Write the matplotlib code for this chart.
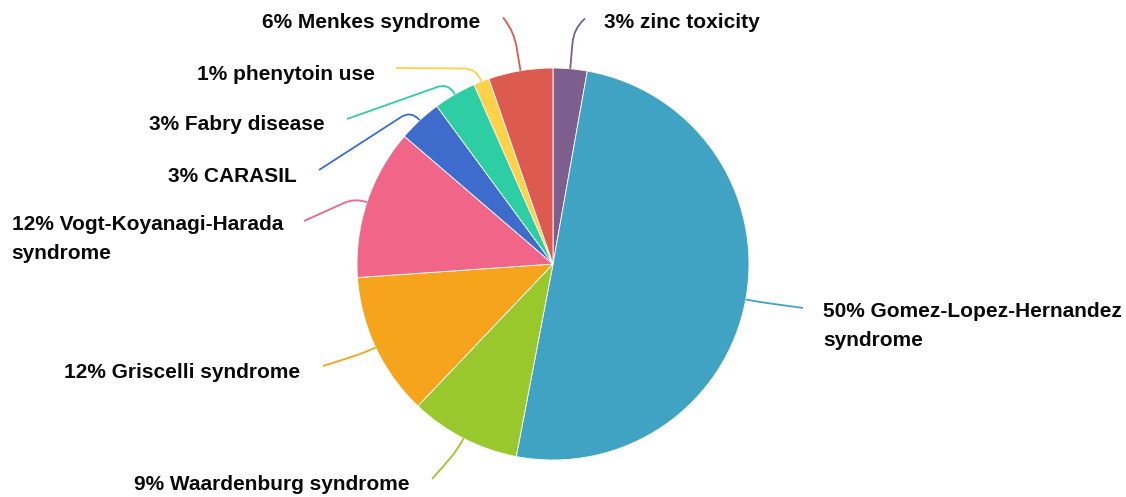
import numpy as np
import matplotlib
matplotlib.use("Agg")
import matplotlib.pyplot as plt
from matplotlib.path import Path
from matplotlib.patches import PathPatch

# ---- data (clockwise from 12 o'clock) ----
categories = ["zinc toxicity", "Gomez-Lopez-Hernandez\nsyndrome", "Waardenburg syndrome",
              "Griscelli syndrome", "Vogt-Koyanagi-Harada\nsyndrome", "CARASIL",
              "Fabry disease", "phenytoin use", "Menkes syndrome"]
shares = [2.8, 50.2, 9.1, 11.8, 12.4, 3.6, 3.5, 1.3, 5.3]
pct_labels = ["3%", "50%", "9%", "12%", "12%", "3%", "3%", "1%", "6%"]
colors = ["#7d5f8f", "#41a3c3", "#98c82b", "#f5a41c", "#f06588",
          "#3d6ccd", "#2dcea3", "#fdd248", "#dd5a50"]

# ---- layout (pixel coords, y downward) ----
W, H = 1126, 497
cx, cy, R = 553, 264, 196
# leader-line end points and label anchors
line_ends = [(585, 18.5), (803, 308), (432, 479), (323, 366), (304, 221),
             (319, 170), (347, 119), (396, 68), (503, 17.5)]
elbow_ext = [40, 13, 13, 13, 13, 13, 13, 14, 40]
text_pos = [(604, 22, "left"), (823, 326, "left"), (409, 484, "right"),
            (300, 373, "right"), (283, 239, "right"), (297, 176, "right"),
            (325, 124, "right"), (375, 74, "right"), (480, 22, "right")]

fig = plt.figure(figsize=(W / 100, H / 100), dpi=100)
ax = fig.add_axes([0, 0, 1, 1])

wedges, _ = ax.pie(shares, colors=colors, startangle=90, counterclock=False,
                   center=(cx, H - cy), radius=R,
                   wedgeprops=dict(edgecolor="white", linewidth=0.6))
ax.set_xlim(0, W)
ax.set_ylim(0, H)
ax.set_aspect("equal")
ax.axis("off")


def to_plot(p):
    return (p[0], H - p[1])


total = sum(shares)
cum = 0.0
for i, s in enumerate(shares):
    mid = (cum + s / 2) / total * 2 * np.pi
    cum += s
    sx, sy = np.sin(mid), -np.cos(mid)
    p0 = np.array([cx + R * sx, cy + R * sy])
    p1 = np.array([cx + (R + elbow_ext[i]) * sx, cy + (R + elbow_ext[i]) * sy])
    p2 = np.array(line_ends[i])
    l1 = np.linalg.norm(p1 - p0)
    l2 = np.linalg.norm(p2 - p1)
    d = min(0.9 * l1, 0.9 * l2, 40)
    a = p1 - (p1 - p0) / l1 * d
    b = p1 + (p2 - p1) / l2 * d
    verts = [to_plot(p0), to_plot(a), to_plot(p1), to_plot(b), to_plot(p2)]
    codes = [Path.MOVETO, Path.LINETO, Path.CURVE3, Path.CURVE3, Path.LINETO]
    ax.add_patch(PathPatch(Path(verts, codes), facecolor="none",
                           edgecolor=colors[i], linewidth=1.3))
    tx, ty, ha = text_pos[i]
    ax.text(tx, H - ty, f"{pct_labels[i]} {categories[i]}", ha=ha, va="center",
            multialignment="left", fontsize=15, fontweight="bold",
            family="Liberation Sans", color="#0a0a0a", linespacing=1.65)

fig.savefig("out.png", dpi=100)
